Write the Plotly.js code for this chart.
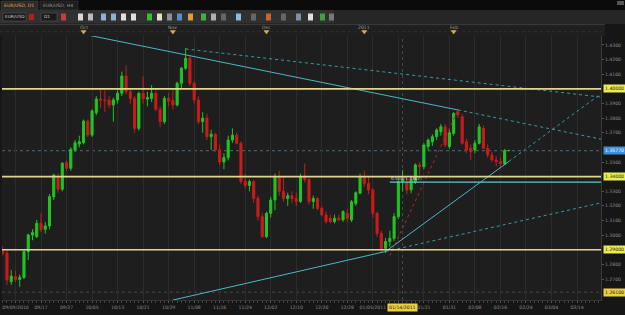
<!DOCTYPE html>
<html><head><meta charset="utf-8">
<script src="https://cdn.plot.ly/plotly-3.0.1.min.js"></script>
<style>html,body{margin:0;padding:0;background:#141414;}#chart{width:625px;height:315px;}</style>
</head><body><div id="chart"></div>
<script>
// ---- candle data (EUR/USD daily) ----
const dates = [
"2010-09-06","2010-09-07","2010-09-08","2010-09-09","2010-09-10","2010-09-13","2010-09-14","2010-09-15","2010-09-16","2010-09-17",
"2010-09-20","2010-09-21","2010-09-22","2010-09-23","2010-09-24","2010-09-27","2010-09-28","2010-09-29","2010-09-30","2010-10-01",
"2010-10-04","2010-10-05","2010-10-06","2010-10-07","2010-10-08","2010-10-11","2010-10-12","2010-10-13","2010-10-14","2010-10-15",
"2010-10-18","2010-10-19","2010-10-20","2010-10-21","2010-10-22","2010-10-25","2010-10-26","2010-10-27","2010-10-28","2010-10-29",
"2010-11-01","2010-11-02","2010-11-03","2010-11-04","2010-11-05","2010-11-08","2010-11-09","2010-11-10","2010-11-11","2010-11-12",
"2010-11-15","2010-11-16","2010-11-17","2010-11-18","2010-11-19","2010-11-22","2010-11-23","2010-11-24","2010-11-25","2010-11-26",
"2010-11-29","2010-11-30","2010-12-01","2010-12-02","2010-12-03","2010-12-06","2010-12-07","2010-12-08","2010-12-09","2010-12-10",
"2010-12-13","2010-12-14","2010-12-15","2010-12-16","2010-12-17","2010-12-20","2010-12-21","2010-12-22","2010-12-23","2010-12-24",
"2010-12-27","2010-12-28","2010-12-29","2010-12-30","2010-12-31","2011-01-03","2011-01-04","2011-01-05","2011-01-06","2011-01-07",
"2011-01-10","2011-01-11","2011-01-12","2011-01-13","2011-01-14","2011-01-17","2011-01-18","2011-01-19","2011-01-20","2011-01-21",
"2011-01-24","2011-01-25","2011-01-26","2011-01-27","2011-01-28","2011-01-31","2011-02-01","2011-02-02","2011-02-03","2011-02-04",
"2011-02-07","2011-02-08","2011-02-09","2011-02-10","2011-02-11","2011-02-14","2011-02-15","2011-02-16","2011-02-17","2011-02-18"];
const open = [
1.2898,1.2876,1.2682,1.2716,1.2697,1.2711,1.2887,1.3001,1.2990,1.3081,
1.3040,1.3063,1.3263,1.3400,1.3313,1.3496,1.3457,1.3582,1.3623,1.3632,
1.3780,1.3684,1.3837,1.3931,1.3924,1.3924,1.3890,1.3924,1.3970,1.4088,
1.3981,1.3935,1.3730,1.3970,1.3930,1.3935,1.3970,1.3860,1.3776,1.3935,
1.3920,1.3890,1.4038,1.4141,1.4209,1.4038,1.3924,1.3776,1.3800,1.3673,
1.3690,1.3582,1.3500,1.3530,1.3650,1.3684,1.3628,1.3366,1.3340,1.3366,
1.3252,1.3126,1.2989,1.3149,1.3240,1.3400,1.3300,1.3250,1.3270,1.3250,
1.3230,1.3400,1.3380,1.3230,1.3250,1.3183,1.3138,1.3115,1.3092,1.3115,
1.3105,1.3149,1.3104,1.3217,1.3286,1.3400,1.3354,1.3309,1.3149,1.3012,
1.2910,1.2956,1.2978,1.3126,1.3365,1.3365,1.3309,1.3365,1.3480,1.3468,
1.3605,1.3639,1.3673,1.3707,1.3741,1.3605,1.3696,1.3844,1.3810,1.3639,
1.3594,1.3582,1.3628,1.3730,1.3594,1.3548,1.3514,1.3502,1.3486,1.3577];
const high = [
1.2925,1.2895,1.2762,1.2755,1.2730,1.2900,1.3010,1.3040,1.3104,1.3150,
1.3090,1.3280,1.3420,1.3420,1.3500,1.3510,1.3600,1.3650,1.3680,1.3790,
1.3790,1.3860,1.3950,1.3992,1.3990,1.3950,1.3940,1.3990,1.4118,1.4160,
1.4000,1.3950,1.3980,1.4084,1.3980,1.4026,1.3990,1.3880,1.3950,1.3970,
1.3990,1.4050,1.4150,1.4280,1.4230,1.4050,1.3950,1.3840,1.3830,1.3720,
1.3700,1.3620,1.3560,1.3680,1.3730,1.3700,1.3640,1.3420,1.3380,1.3380,
1.3270,1.3150,1.3160,1.3260,1.3420,1.3440,1.3400,1.3290,1.3300,1.3290,
1.3420,1.3491,1.3390,1.3270,1.3260,1.3200,1.3160,1.3140,1.3140,1.3140,
1.3170,1.3180,1.3240,1.3300,1.3420,1.3440,1.3400,1.3320,1.3160,1.3030,
1.2980,1.3030,1.3150,1.3380,1.3445,1.3390,1.3400,1.3490,1.3500,1.3630,
1.3660,1.3690,1.3730,1.3760,1.3760,1.3720,1.3840,1.3860,1.3830,1.3660,
1.3620,1.3650,1.3760,1.3750,1.3620,1.3570,1.3540,1.3530,1.3590,1.3580];
const low = [
1.2862,1.2659,1.2659,1.2680,1.2647,1.2700,1.2830,1.2965,1.2980,1.3020,
1.3010,1.3040,1.3240,1.3290,1.3300,1.3440,1.3440,1.3570,1.3600,1.3620,
1.3670,1.3670,1.3820,1.3870,1.3840,1.3870,1.3776,1.3900,1.3950,1.3960,
1.3900,1.3700,1.3715,1.3900,1.3880,1.3910,1.3850,1.3740,1.3760,1.3880,
1.3860,1.3880,1.4000,1.4130,1.4020,1.3900,1.3760,1.3700,1.3650,1.3582,
1.3570,1.3480,1.3450,1.3510,1.3630,1.3620,1.3350,1.3320,1.3300,1.3220,
1.3100,1.2980,1.2980,1.3120,1.3170,1.3270,1.3230,1.3200,1.3220,1.3200,
1.3220,1.3360,1.3210,1.3180,1.3170,1.3130,1.3080,1.3080,1.3080,1.3100,
1.3090,1.3090,1.3090,1.3200,1.3280,1.3330,1.3280,1.3120,1.2990,1.2880,
1.2876,1.2920,1.2960,1.3110,1.3300,1.3280,1.3286,1.3350,1.3410,1.3450,
1.3580,1.3610,1.3650,1.3680,1.3600,1.3590,1.3680,1.3800,1.3620,1.3560,
1.3514,1.3560,1.3620,1.3590,1.3530,1.3500,1.3470,1.3460,1.3480,1.3575];
const close = [
1.2876,1.2693,1.2720,1.2697,1.2711,1.2887,1.3001,1.3017,1.3081,1.3036,
1.3063,1.3263,1.3411,1.3313,1.3491,1.3457,1.3587,1.3632,1.3639,1.3780,
1.3684,1.3849,1.3931,1.3924,1.3920,1.3890,1.3924,1.3970,1.4088,1.3981,
1.3935,1.3730,1.3970,1.3935,1.3940,1.3970,1.3860,1.3776,1.3935,1.3915,
1.3890,1.4038,1.4141,1.4209,1.4038,1.3924,1.3776,1.3800,1.3673,1.3690,
1.3582,1.3500,1.3530,1.3650,1.3684,1.3628,1.3366,1.3340,1.3366,1.3252,
1.3126,1.2989,1.3149,1.3240,1.3400,1.3300,1.3250,1.3270,1.3250,1.3230,
1.3400,1.3380,1.3230,1.3250,1.3183,1.3138,1.3092,1.3092,1.3115,1.3105,
1.3161,1.3115,1.3229,1.3290,1.3400,1.3354,1.3309,1.3149,1.3012,1.2910,
1.2956,1.2978,1.3126,1.3365,1.3380,1.3309,1.3377,1.3480,1.3468,1.3616,
1.3650,1.3673,1.3719,1.3741,1.3616,1.3700,1.3833,1.3821,1.3628,1.3582,
1.3571,1.3628,1.3741,1.3594,1.3548,1.3514,1.3502,1.3491,1.3577,1.3579];

// ---- drawn objects ----
const levelPrices = [1.40, 1.34, 1.29];          // yellow horizontal lines
const levelLabels = ["1.40000","1.34000","1.29000"];
const bottomLevel = 1.2610, bottomLabel = "1.26100";
const lastPrice = 1.3577, lastLabel = "1.35770";
const lineA_dates = ["2010-10-04","2011-02-02"], lineA_prices = [1.4368, 1.3856];
const lineA_ext_dates = ["2011-02-02","2011-03-22"], lineA_ext_prices = [1.3856, 1.3654];
const lineB_dates = ["2010-11-04","2011-03-22"], lineB_prices = [1.4273, 1.3943];
const lineC_dates = ["2011-01-10","2011-02-18"], lineC_prices = [1.2888, 1.3504];
const lineC_ext_dates = ["2011-02-18","2011-03-22"], lineC_ext_prices = [1.3504, 1.3974];
const lineD_dates = ["2010-11-01","2011-01-10"], lineD_prices = [1.2556, 1.2888];
const lineD_ext_dates = ["2011-01-10","2011-03-22"], lineD_ext_prices = [1.2888, 1.3223];
const fibBase_dates = ["2011-01-11","2011-02-02"], fibBase_prices = [1.2861, 1.3856];
const fibHalf_dates = ["2011-01-11","2011-03-22"], fibHalf_price = 1.3362, fibHalf_text = "0.500(1.3362)";
const crossDate = "2011-01-14", crossLabel = "01/14/2011";
const monthMarks = [["2010-10-01","Oct"],["2010-11-01","Nov"],["2010-12-01","Dec"],["2011-01-03","2011"],["2011-02-01","Feb"]];
const yTicks = [1.27,1.28,1.30,1.31,1.32,1.33,1.35,1.37,1.38,1.39,1.41,1.42,1.43];

// ---- trading-day calendar (weekdays) ----
function weekdays(a,b){const out=[];const d=new Date(a+"T00:00:00Z"),e=new Date(b+"T00:00:00Z");
  while(d<=e){const w=d.getUTCDay();if(w>0&&w<6)out.push(d.toISOString().slice(0,10));d.setUTCDate(d.getUTCDate()+1);}return out;}
const cal = weekdays("2010-09-06","2011-03-31");
const ix = s => cal.indexOf(s);
const xs = dates.map(ix);

const tickIdx=[], tickTxt=[];
let prevYear=null;
for(let i=3;i<=140;i+=6){const d=cal[i];const y=d.slice(0,4);let t=d.slice(5,7)+"/"+d.slice(8,10);
  if(prevYear===null||y!==prevYear)t+="/"+y; prevYear=y;
  if(Math.abs(i-ix(crossDate))<3)t="";   // hidden under the crosshair date box
  tickIdx.push(i); tickTxt.push(t);}

// ---- geometry helpers for decoration outside the plot ----
const W=625,H=315,ML=2,MR=24,MT=36,MB=15;
const PW=W-ML-MR, PH=H-MT-MB;
const xp=px=>(px-ML)/PW, yp=py=>1-(py-MT)/PH;
const shapes=[], ann=[];
function rect(x0,y0,x1,y1,fill,lc){shapes.push({type:"rect",xref:"paper",yref:"paper",x0:xp(x0),x1:xp(x1),y0:yp(y1),y1:yp(y0),fillcolor:fill,line:{width:lc?0.6:0,color:lc||fill},layer:"above"});}
function txt(x,y,t,col,size,anchor,bg){ann.push({xref:"paper",yref:"paper",x:xp(x),y:yp(y),text:t,showarrow:false,xanchor:anchor||"left",yanchor:"middle",font:{family:"DejaVu Sans",size:size||5,color:col},bgcolor:bg||"rgba(0,0,0,0)",borderpad:0});}

// tab bar
rect(0,0,625,10,"#0b0b0b");
rect(1,1,38,10,"#2b2b2b","#444"); txt(3,5.5,"EUR/USD, D1","#e0a848",4.6);
rect(40,1,78,10,"#1d1d1d","#3a3a3a"); txt(42,5.5,"EUR/USD, H4","#9a9a9a",4.6);
rect(617,1,624,5,"#555");
// toolbar
rect(0,10,625,24,"#262626");
rect(0,10,334,23,"#303030");
rect(3,13,26,21,"#1a1a1a","#555"); txt(4,17,"EUR/USD","#cfcfcf",4.3);
rect(29,14,34,20,"#b02020"); 
rect(41,13,57,21,"#1a1a1a","#555"); txt(43,17,"D1","#cfcfcf",4.3);
const icons=[[61,"#c04040"],[78,"#d8d8d8"],[88,"#bbbbbb"],[101,"#8fb0d0"],[111,"#8fb0d0"],[121,"#e0e0e0"],[131,"#e0e0e0"],
 [147,"#30c030"],[157,"#e8e0c0"],[167,"#909090"],[177,"#5090d0"],[188,"#e0a030"],[201,"#40b040"],[211,"#b0b0b0"],
 [221,"#666666"],[236,"#90b8e0"],[251,"#666666"],[266,"#d06030"],[281,"#666666"],[296,"#8090a0"],[308,"#e0e0e0"],[320,"#40a040"],[329,"#777777"]];
icons.forEach(([x,c])=>rect(x,13.5,x+5,20.5,c));
// date header band
rect(0,24,605,36,"#1f1f1f");
shapes.push({type:"line",xref:"paper",yref:"paper",x0:xp(0),x1:xp(605),y0:yp(24.5),y1:yp(24.5),line:{color:"#3a3a3a",width:1},layer:"above"});
shapes.push({type:"line",xref:"paper",yref:"paper",x0:xp(0),x1:xp(605),y0:yp(31.5),y1:yp(31.5),line:{color:"#333",width:0.6,dash:"dot"},layer:"above"});
monthMarks.forEach(([d,t])=>{
  ann.push({xref:"x",yref:"paper",x:ix(d),y:yp(27.5),text:t,showarrow:false,xanchor:"center",yanchor:"middle",font:{family:"DejaVu Sans",size:4.6,color:"#9a9a9a"}});
  const i=ix(d);
  shapes.push({type:"path",xref:"x",yref:"paper",path:`M ${i-0.6} ${yp(30.5)} L ${i+0.6} ${yp(30.5)} L ${i} ${yp(34)} Z`,fillcolor:"#d8b43a",line:{width:0.5,color:"#d8b43a"},layer:"above"});
});

// horizontal levels
levelPrices.forEach(p=>shapes.push({type:"line",xref:"paper",yref:"y",x0:0,x1:1,y0:p,y1:p,line:{color:"#e2d68e",width:1.6},layer:"above"}));
shapes.push({type:"line",xref:"paper",yref:"y",x0:0,x1:1,y0:bottomLevel,y1:bottomLevel,line:{color:"#4a4a4a",width:1,dash:"dot"},layer:"below"});
shapes.push({type:"line",xref:"paper",yref:"y",x0:0,x1:1,y0:lastPrice,y1:lastPrice,line:{color:"#3f6f8f",width:1,dash:"dot"},layer:"below"});
shapes.push({type:"line",xref:"x",yref:"paper",x0:ix(crossDate),x1:ix(crossDate),y0:0,y1:1,line:{color:"#4a4a4a",width:1,dash:"dot"},layer:"below"});

// right axis price boxes
function pbox(p,t,bg,fc){ann.push({xref:"paper",yref:"y",x:xp(603),y:p,text:t,showarrow:false,xanchor:"left",yanchor:"middle",font:{family:"DejaVu Sans",size:4.6,color:fc},bgcolor:bg,borderpad:1});}
levelPrices.forEach((p,i)=>pbox(p,levelLabels[i],"#ecec50","#202020"));
pbox(bottomLevel,bottomLabel,"#ecd040","#202020");
pbox(lastPrice,lastLabel,"#3b8fd8","#ffffff");
// crosshair date box
ann.push({xref:"x",yref:"paper",x:ix(crossDate),y:yp(307.5),text:crossLabel,showarrow:false,xanchor:"center",yanchor:"middle",font:{family:"DejaVu Sans",size:4.6,color:"#202020"},bgcolor:"#ecd040",borderpad:1});
// fib label
ann.push({xref:"x",yref:"y",x:ix(fibHalf_dates[0]),y:fibHalf_price,text:fibHalf_text,showarrow:false,xanchor:"left",yanchor:"bottom",font:{family:"DejaVu Sans",size:4.3,color:"#d8d8d8"},borderpad:0});

const line=(d,p,col,dash,w)=>({type:"scatter",mode:"lines",x:d.map(ix),y:p,line:{color:col,width:w||1,dash:dash||"solid"},hoverinfo:"skip",showlegend:false});
const traces=[
 {type:"candlestick",x:xs,open:open,high:high,low:low,close:close,whiskerwidth:0,
  increasing:{line:{color:"#22c422",width:1},fillcolor:"#22c422"},
  decreasing:{line:{color:"#c81c1c",width:1},fillcolor:"#c81c1c"},hoverinfo:"skip",showlegend:false},
 line(lineA_dates,lineA_prices,"#4ab8c4"),
 line(lineA_ext_dates,lineA_ext_prices,"#3a9aa4","dot"),
 line(lineB_dates,lineB_prices,"#3a9aa4","dot"),
 line(lineC_dates,lineC_prices,"#4ab8c4"),
 line(lineC_ext_dates,lineC_ext_prices,"#3a9aa4","dot"),
 line(lineD_dates,lineD_prices,"#4ab8c4"),
 line(lineD_ext_dates,lineD_ext_prices,"#3a9aa4","dot"),
 line(fibBase_dates,fibBase_prices,"#b02828","dot"),
 line(fibHalf_dates,[fibHalf_price,fibHalf_price],"#5ac8d4","solid",1.2)
];

const layout={width:W,height:H,margin:{l:ML,r:MR,t:MT,b:MB},paper_bgcolor:"#161616",plot_bgcolor:"#1e1e1e",
 showlegend:false,dragmode:false,
 xaxis:{range:[-0.17,140.64],tickmode:"array",tickvals:tickIdx,ticktext:tickTxt,showgrid:true,gridcolor:"#2c2c2c",gridwidth:1,
   zeroline:false,rangeslider:{visible:false},ticks:"outside",ticklen:2,tickcolor:"#555",
   minor:{dtick:1,tick0:0,ticks:"outside",ticklen:1.5,tickcolor:"#444",showgrid:false},
   tickfont:{family:"DejaVu Sans",size:4.6,color:"#8c8c8c"},showline:true,linecolor:"#333",fixedrange:true},
 yaxis:{range:[1.25564,1.43615],side:"right",tickmode:"array",tickvals:yTicks,ticktext:yTicks.map(v=>v.toFixed(4)),
   showgrid:false,zeroline:false,ticks:"outside",ticklen:2,tickcolor:"#555",
   tickfont:{family:"DejaVu Sans",size:4.6,color:"#8c8c8c"},showline:true,linecolor:"#3a3a3a",fixedrange:true},
 shapes:shapes,annotations:ann};
Plotly.newPlot("chart",traces,layout,{displayModeBar:false,staticPlot:true});
</script></body></html>
